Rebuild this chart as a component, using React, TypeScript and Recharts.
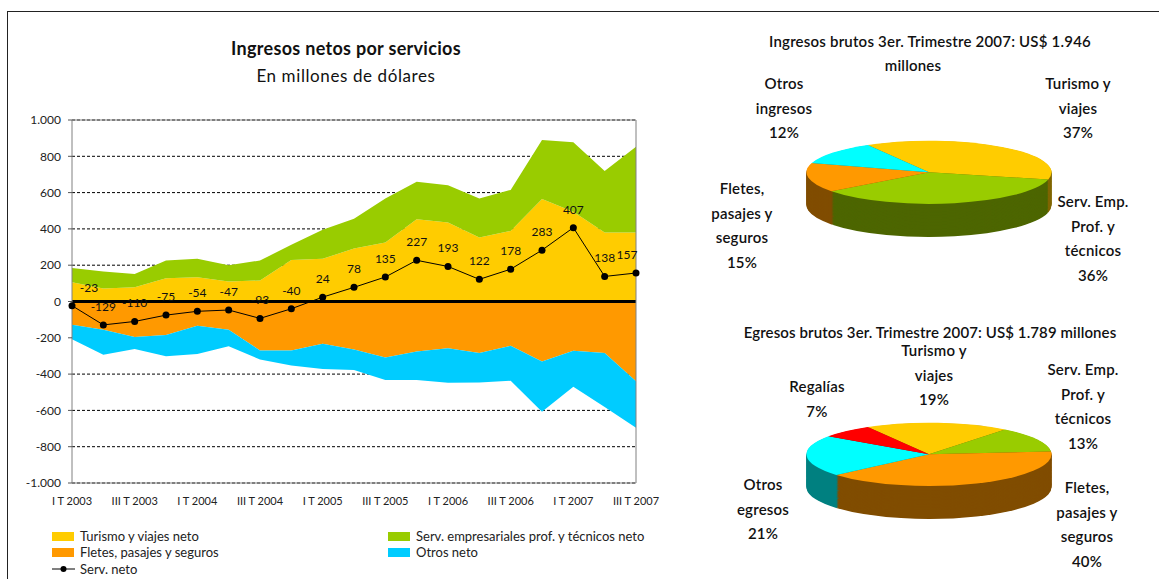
import React from "react";
import {
  ComposedChart,
  Area,
  Line,
  XAxis,
  YAxis,
  CartesianGrid,
  ReferenceLine,
  LabelList,
  PieChart,
  Pie,
  Cell,
} from "recharts";

const QUARTERS = [
  "I T 2003", "II T 2003", "III T 2003", "IV T 2003",
  "I T 2004", "II T 2004", "III T 2004", "IV T 2004",
  "I T 2005", "II T 2005", "III T 2005", "IV T 2005",
  "I T 2006", "II T 2006", "III T 2006", "IV T 2006",
  "I T 2007", "II T 2007", "III T 2007",
];

const TURISMO = [106, 72, 79, 128, 134, 110, 116, 229, 235, 292, 325, 453, 435, 352, 389, 565, 495, 380, 380];
const SERV_EMP = [79, 93, 73, 98, 101, 90, 110, 83, 161, 164, 243, 207, 205, 216, 226, 325, 382, 339, 473];
const FLETES = [-128, -156, -196, -185, -134, -156, -270, -270, -233, -264, -308, -275, -257, -284, -244, -330, -272, -284, -440];
const OTROS = [-80, -138, -66, -116, -155, -91, -49, -82, -139, -114, -125, -158, -190, -162, -193, -277, -198, -297, -256];
const SERV_NETO = [-23, -129, -110, -75, -54, -47, -93, -40, 24, 78, 135, 227, 193, 122, 178, 283, 407, 138, 157];

const Y_TICKS = [-1000, -800, -600, -400, -200, 0, 200, 400, 600, 800, 1000];

const INGRESOS_PCT = [37, 36, 15, 12];
const INGRESOS_LABELS = [
  ["Turismo y", "viajes"],
  ["Serv. Emp.", "Prof. y", "técnicos"],
  ["Fletes,", "pasajes y", "seguros"],
  ["Otros", "ingresos"],
];
const EGRESOS_PCT = [19, 13, 40, 21, 7];
const EGRESOS_LABELS = [
  ["Turismo y", "viajes"],
  ["Serv. Emp.", "Prof. y", "técnicos"],
  ["Fletes,", "pasajes y", "seguros"],
  ["Otros", "egresos"],
  ["Regalías"],
];

const INGRESOS_TOP = ["#FFCC00", "#99CC00", "#FF9900", "#00FFFF"];
const INGRESOS_SIDE = ["#806600", "#4D6600", "#804D00", "#008080"];
const EGRESOS_TOP = ["#FFCC00", "#99CC00", "#FF9900", "#00FFFF", "#FF0000"];
const EGRESOS_SIDE = ["#806600", "#4D6600", "#804D00", "#008080", "#800000"];

// label block centres (x, first line y) for each slice
const INGRESOS_POS = [
  [1078, 83],
  [1093, 201],
  [742, 188],
  [784, 83],
];
const EGRESOS_POS = [
  [934, 350],
  [1083, 369],
  [1087, 487],
  [763, 484],
  [817, 386],
];

const FONT = "Lato, 'Open Sans', sans-serif";

const chartData = QUARTERS.map((q, i) => ({
  q,
  turismo: TURISMO[i],
  serv: SERV_EMP[i],
  fletes: FLETES[i],
  otros: OTROS[i],
  neto: SERV_NETO[i],
}));

const fmt = (v: number) => {
  const s = Math.abs(v).toString().replace(/\B(?=(\d{3})+(?!\d))/g, ".");
  return v < 0 ? "-" + s : s;
};

const NetLabel = (props: any) => {
  const { x, y, value, index } = props;
  let dx = 0;
  if (index === 0) dx = 17;
  if (index === SERV_NETO.length - 1) dx = -9;
  return (
    <text x={x + dx} y={y - 14} textAnchor='middle' fontSize={12} fill='#111' fontFamily={FONT}>
      {value}
    </text>
  );
};

const RATIO = 0.258;
const R = 122.5;
const DEPTH = 128;

const Pie3D = ({ pct, top, side, left, topY }: { pct: number[]; top: string[]; side: string[]; left: number; topY: number }) => {
  const data = pct.map((value, i) => ({ name: String(i), value }));
  const layers: number[] = [];
  for (let d = DEPTH; d > 0; d -= 3) layers.push(d);
  return (
    <div
      style={{
        position: "absolute",
        left,
        top: topY,
        width: 250,
        height: 380,
        transform: `scaleY(${RATIO})`,
        transformOrigin: "0 0",
      }}
    >
      <PieChart width={250} height={380} margin={{ top: 0, right: 0, bottom: 0, left: 0 }}>
        {layers.map((d) => (
          <Pie
            key={`side-${d}`}
            data={data}
            dataKey='value'
            cx={125}
            cy={125 + d}
            outerRadius={R}
            startAngle={120}
            endAngle={-240}
            stroke='none'
            isAnimationActive={false}
          >
            {data.map((_, i) => (
              <Cell key={i} fill={side[i]} />
            ))}
          </Pie>
        ))}
        <Pie
          data={data}
          dataKey='value'
          cx={125}
          cy={125}
          outerRadius={R}
          startAngle={120}
          endAngle={-240}
          stroke='none'
          isAnimationActive={false}
        >
          {data.map((_, i) => (
            <Cell key={i} fill={top[i]} />
          ))}
        </Pie>
      </PieChart>
    </div>
  );
};

const PieLabels = ({ labels, pct, pos }: { labels: string[][]; pct: number[]; pos: number[][] }) => (
  <>
    {labels.map((lines, i) =>
      [...lines, `${pct[i]}%`].map((t, j) => (
        <div
          key={`${i}-${j}`}
          style={{
            position: "absolute",
            left: pos[i][0] - 80,
            width: 160,
            top: pos[i][1] + j * 24.5 - 10,
            height: 20,
            lineHeight: "20px",
            textAlign: "center",
            fontSize: 15,
            fontWeight: 600,
            letterSpacing: 0.2,
            color: "#111",
            whiteSpace: "nowrap",
          }}
        >
          {t}
        </div>
      ))
    )}
  </>
);

const Swatch = ({ x, y, color, text }: { x: number; y: number; color: string; text: string }) => (
  <>
    <div style={{ position: "absolute", left: x, top: y - 4.5, width: 22, height: 9, background: color }} />
    <div style={{ position: "absolute", left: x + 28, top: y - 8, fontSize: 13, lineHeight: "16px", color: "#222", whiteSpace: "nowrap" }}>
      {text}
    </div>
  </>
);

export default function App() {
  return (
    <div
      style={{
        position: "absolute",
        left: 0,
        top: 0,
        width: 1159,
        height: 579,
        background: "#fff",
        fontFamily: FONT,
        overflow: "hidden",
      }}
    >
      <div style={{ position: "absolute", left: 7, top: 11, width: 1160, height: 580, borderTop: "1px solid #222", borderLeft: "1px solid #222" }} />

      <div style={{ position: "absolute", left: 146, width: 400, top: 37, textAlign: "center", fontSize: 18, fontWeight: 700, color: "#111", letterSpacing: 0.3 }}>
        Ingresos netos por servicios
      </div>
      <div style={{ position: "absolute", left: 146, width: 400, top: 65, textAlign: "center", fontSize: 17, color: "#111", letterSpacing: 0.6 }}>
        En millones de dólares
      </div>

      <div style={{ position: "absolute", left: 0, top: 0 }}>
        <ComposedChart
          width={700}
          height={520}
          data={chartData}
          margin={{ top: 120, right: 4, bottom: 7, left: 12 }}
        >
          <CartesianGrid vertical={false} stroke='#000' strokeDasharray='3 2' />
          <XAxis
            dataKey='q'
            scale='point'
            padding={{ left: 0, right: 0 }}
            interval={1}
            height={30}
            tickLine={false}
            tickSize={0}
            tickMargin={14}
            axisLine={{ stroke: "#808080" }}
            tick={{ fontSize: 11, fill: "#222", fontFamily: FONT }}
          />
          <YAxis
            domain={[-1000, 1000]}
            ticks={Y_TICKS}
            width={60}
            tickSize={4}
            tickMargin={7}
            tickFormatter={fmt}
            axisLine={{ stroke: "#808080" }}
            tickLine={{ stroke: "#555" }}
            tick={{ fontSize: 12, fill: "#222", fontFamily: FONT }}
          />
          <YAxis
            yAxisId='r'
            orientation='right'
            domain={[-1000, 1000]}
            ticks={Y_TICKS}
            width={60}
            tickSize={4}
            tickMargin={7}
            tickLine={false}
            tickFormatter={fmt}
            axisLine={{ stroke: "#808080" }}
            tick={{ fontSize: 12, fill: "#222", fontFamily: FONT, textAnchor: "start" }}
          />
          <Area type='linear' dataKey='turismo' stackId='pos' fill='#FFCC00' fillOpacity={1} stroke='none' isAnimationActive={false} />
          <Area type='linear' dataKey='serv' stackId='pos' fill='#99CC00' fillOpacity={1} stroke='none' isAnimationActive={false} />
          <Area type='linear' dataKey='fletes' stackId='neg' fill='#FF9900' fillOpacity={1} stroke='none' isAnimationActive={false} />
          <Area type='linear' dataKey='otros' stackId='neg' fill='#00CCFF' fillOpacity={1} stroke='none' isAnimationActive={false} />
          <ReferenceLine y={1000} stroke='#808080' />
          <ReferenceLine y={0} stroke='#000' strokeWidth={3} />
          <Line
            type='linear'
            dataKey='neto'
            stroke='#000'
            strokeWidth={1}
            dot={{ r: 3.5, fill: "#000", stroke: "none" }}
            isAnimationActive={false}
          >
            <LabelList dataKey='neto' content={<NetLabel />} />
          </Line>
        </ComposedChart>
      </div>

      <Swatch x={52} y={536} color='#FFCC00' text='Turismo y viajes neto' />
      <Swatch x={52} y={552} color='#FF9900' text='Fletes, pasajes y seguros' />
      <Swatch x={388} y={536} color='#99CC00' text='Serv. empresariales prof. y técnicos neto' />
      <Swatch x={388} y={552} color='#00CCFF' text='Otros neto' />
      <svg style={{ position: "absolute", left: 52, top: 563 }} width={24} height={12}>
        <line x1={0} y1={6} x2={23} y2={6} stroke='#000' strokeWidth={1} />
        <circle cx={11.5} cy={6} r={3} fill='#000' />
      </svg>
      <div style={{ position: "absolute", left: 80, top: 561, fontSize: 13, lineHeight: "16px", color: "#222" }}>Serv. neto</div>

      <div style={{ position: "absolute", left: 700, width: 460, top: 32, textAlign: "center", fontSize: 15, fontWeight: 600, color: "#111", letterSpacing: 0.2 }}>
        Ingresos brutos 3er. Trimestre 2007: US$ 1.946
      </div>
      <div style={{ position: "absolute", left: 700, width: 426, top: 56, textAlign: "center", fontSize: 15, fontWeight: 600, color: "#111", letterSpacing: 0.2 }}>
        millones
      </div>
      <Pie3D pct={INGRESOS_PCT} top={INGRESOS_TOP} side={INGRESOS_SIDE} left={804} topY={140} />
      <PieLabels labels={INGRESOS_LABELS} pct={INGRESOS_PCT} pos={INGRESOS_POS} />

      <div style={{ position: "absolute", left: 700, width: 460, top: 323, textAlign: "center", fontSize: 15, fontWeight: 600, color: "#111", letterSpacing: 0.1 }}>
        Egresos brutos 3er. Trimestre 2007: US$ 1.789 millones
      </div>
      <Pie3D pct={EGRESOS_PCT} top={EGRESOS_TOP} side={EGRESOS_SIDE} left={804} topY={422} />
      <PieLabels labels={EGRESOS_LABELS} pct={EGRESOS_PCT} pos={EGRESOS_POS} />
    </div>
  );
}
